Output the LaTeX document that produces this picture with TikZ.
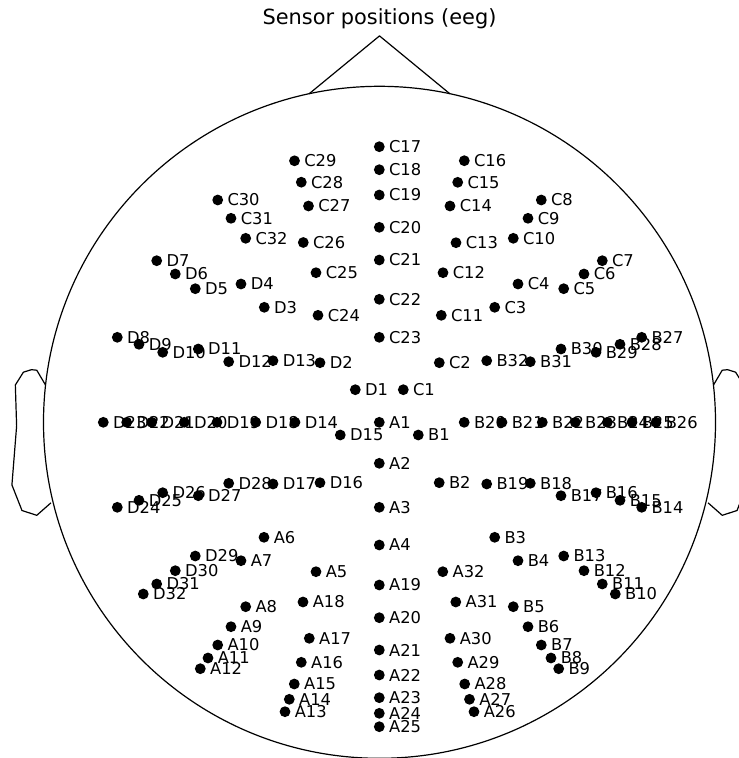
\documentclass[tikz,border=0pt]{standalone}
\usepackage{fontspec}
\setmainfont{DejaVu Sans}
\tikzset{
  sensor/.style={circle, fill=black, draw=none, inner sep=0pt, minimum size=10.8pt},
  senslabel/.style={anchor=west, inner sep=0pt, font=\fontsize{16.3}{16.3}\selectfont},
  outline/.style={line width=1.2pt, black, line join=round},
}
% one electrode: filled dot plus its name to the right
\newcommand\sensorat[3]{%
  \node[sensor] (#1) at (#2,#3) {};
  \node[senslabel] (#1-lbl) at ([xshift=9.6pt]#1.center) {#1};}
\begin{document}
\begin{tikzpicture}[x=1pt,y=-1pt]
\useasboundingbox (0,0) rectangle (739,758);
\fill[white] (0,0) rectangle (739,758);

% title
\node[font=\fontsize{20.9}{20.9}\selectfont, anchor=base] (title) at (379.5,24.5) {Sensor positions (eeg)};

% head outline, nose and ears
\coordinate (hc) at (379.5,422.3);
\draw[outline] (hc) circle[radius=336pt];
\draw[outline] (309.1,93.8) -- (379.5,35.9) -- (449.9,93.8);
\draw[outline] (45.52,385.0) -- (36.78,370.22) -- (31.40,369.68) -- (23.41,372.17) -- (15.34,385.0)
  -- (16.62,426.0) -- (11.92,484.93) -- (22.0,510.53) -- (36.78,515.30) -- (50.89,502.87);
\draw[outline] (713.48,385.0) -- (722.22,370.22) -- (727.6,369.68) -- (735.59,372.17) -- (743.66,385.0)
  -- (742.38,426.0) -- (747.08,484.93) -- (737.0,510.53) -- (722.22,515.30) -- (708.11,502.87);

% group A
\sensorat{A1}{379.3}{422.3}
\sensorat{A2}{379.3}{463.3}
\sensorat{A3}{379.3}{507.3}
\sensorat{A4}{379.3}{545}
\sensorat{A5}{316}{571.7}
\sensorat{A6}{264}{537.3}
\sensorat{A7}{241}{560.7}
\sensorat{A8}{245.7}{606.7}
\sensorat{A9}{231}{626.7}
\sensorat{A10}{217.7}{645}
\sensorat{A11}{208}{658}
\sensorat{A12}{200.3}{668.7}
\sensorat{A13}{285}{711.7}
\sensorat{A14}{289.3}{699.3}
\sensorat{A15}{294.3}{684}
\sensorat{A16}{301.3}{662.3}
\sensorat{A17}{309.3}{638.3}
\sensorat{A18}{303}{602}
\sensorat{A19}{379.3}{585}
\sensorat{A20}{379.3}{617.7}
\sensorat{A21}{379.3}{650}
\sensorat{A22}{379.3}{675}
\sensorat{A23}{379.3}{697.7}
\sensorat{A24}{379.3}{713.3}
\sensorat{A25}{379.3}{726.7}
\sensorat{A26}{474}{711.7}
\sensorat{A27}{469.5}{699.3}
\sensorat{A28}{464.7}{684}
\sensorat{A29}{457.7}{662.3}
\sensorat{A30}{450}{638.3}
\sensorat{A31}{455.8}{602}
\sensorat{A32}{442.8}{571.7}

% group B
\sensorat{B1}{418.3}{435}
\sensorat{B2}{439.2}{482.7}
\sensorat{B3}{494.7}{537.3}
\sensorat{B4}{518}{560.7}
\sensorat{B5}{513.3}{606.7}
\sensorat{B6}{528}{626.7}
\sensorat{B7}{541.3}{645}
\sensorat{B8}{551}{658}
\sensorat{B9}{558.7}{668.7}
\sensorat{B10}{615.3}{594}
\sensorat{B11}{602.3}{584}
\sensorat{B12}{584}{570.7}
\sensorat{B13}{563.7}{556}
\sensorat{B14}{641.7}{507.3}
\sensorat{B15}{620}{500.3}
\sensorat{B16}{596}{492.7}
\sensorat{B17}{561}{495.7}
\sensorat{B18}{530.3}{483.3}
\sensorat{B19}{486.7}{484}
\sensorat{B20}{464.2}{422.3}
\sensorat{B21}{502}{422.3}
\sensorat{B22}{542.3}{422.3}
\sensorat{B23}{575.3}{422.3}
\sensorat{B24}{607.3}{422.3}
\sensorat{B25}{632}{422.3}
\sensorat{B26}{656}{422.3}
\sensorat{B27}{641.7}{337.3}
\sensorat{B28}{620}{344.3}
\sensorat{B29}{596}{352.3}
\sensorat{B30}{561}{349}
\sensorat{B31}{530.3}{361.7}
\sensorat{B32}{486.7}{360.7}

% group C
\sensorat{C1}{403.3}{389.7}
\sensorat{C2}{439.3}{362.7}
\sensorat{C3}{494.7}{307.3}
\sensorat{C4}{518}{284}
\sensorat{C5}{563.7}{288.7}
\sensorat{C6}{584}{274}
\sensorat{C7}{602.3}{260.7}
\sensorat{C8}{541.3}{200}
\sensorat{C9}{528}{218.3}
\sensorat{C10}{513.3}{238.3}
\sensorat{C11}{441.3}{315.3}
\sensorat{C12}{443}{272.7}
\sensorat{C13}{456}{242.7}
\sensorat{C14}{450}{206}
\sensorat{C15}{457.7}{182.3}
\sensorat{C16}{464.3}{160.7}
\sensorat{C17}{379.3}{146.7}
\sensorat{C18}{379.3}{169.7}
\sensorat{C19}{379.3}{195}
\sensorat{C20}{379.3}{227.3}
\sensorat{C21}{379.3}{260}
\sensorat{C22}{379.3}{299.3}
\sensorat{C23}{379.3}{337.3}
\sensorat{C24}{318}{315.3}
\sensorat{C25}{316}{272.7}
\sensorat{C26}{303.3}{242.5}
\sensorat{C27}{308.5}{206}
\sensorat{C28}{301.3}{182.2}
\sensorat{C29}{294.5}{160.8}
\sensorat{C30}{217.7}{200}
\sensorat{C31}{231}{218.3}
\sensorat{C32}{245.7}{238.3}

% group D
\sensorat{D1}{355.3}{389.7}
\sensorat{D2}{320}{362.7}
\sensorat{D3}{264.3}{307.3}
\sensorat{D4}{241}{284}
\sensorat{D5}{195.3}{288.7}
\sensorat{D6}{175.3}{274}
\sensorat{D7}{156.7}{260.7}
\sensorat{D8}{117.3}{337.3}
\sensorat{D9}{139}{344.3}
\sensorat{D10}{162.7}{352.3}
\sensorat{D11}{198.3}{349}
\sensorat{D12}{228.7}{361.7}
\sensorat{D13}{273}{360.7}
\sensorat{D14}{295}{422.3}
\sensorat{D15}{340.3}{435}
\sensorat{D16}{320}{482.7}
\sensorat{D17}{273}{484}
\sensorat{D18}{255.7}{422.3}
\sensorat{D19}{217}{422.3}
\sensorat{D20}{184.3}{422.3}
\sensorat{D21}{151.7}{422.3}
\sensorat{D22}{126.7}{422.3}
\sensorat{D23}{103.3}{422.3}
\sensorat{D24}{117.3}{507.3}
\sensorat{D25}{139}{500.3}
\sensorat{D26}{162.7}{492.7}
\sensorat{D27}{198.3}{495.7}
\sensorat{D28}{228.7}{483.3}
\sensorat{D29}{195.3}{556}
\sensorat{D30}{175.3}{570.7}
\sensorat{D31}{156.7}{584}
\sensorat{D32}{143.3}{594}
\end{tikzpicture}
\end{document}
